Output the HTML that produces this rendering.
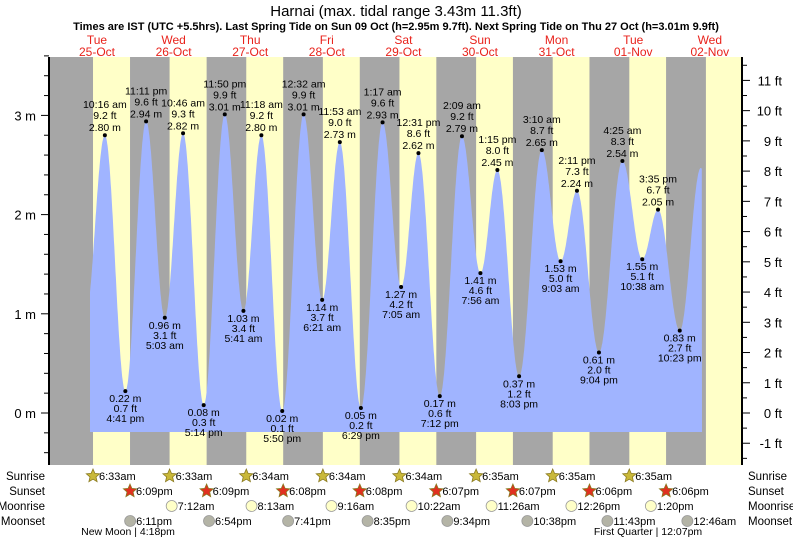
<!DOCTYPE html>
<html><head><meta charset="utf-8"><style>
body{margin:0;background:#fff;}
svg{display:block;font-family:"Liberation Sans",sans-serif;}
</style></head><body>
<svg id="c" width="793" height="539">
<text x="396" y="16" text-anchor="middle" font-size="15">Harnai (max. tidal range 3.43m 11.3ft)</text>
<text x="396" y="30" text-anchor="middle" font-size="11" font-weight="bold">Times are IST (UTC +5.5hrs). Last Spring Tide on Sun 09 Oct (h=2.95m 9.7ft). Next Spring Tide on Thu 27 Oct (h=3.01m 9.9ft)</text>
<g id="bg"></g><g id="tide"></g><g id="axes"></g><g id="labels"></g><g id="bottom"></g>
</svg>
<script>
const dayNames=["Tue","Wed","Thu","Fri","Sat","Sun","Mon","Tue","Wed"];
const dayDates=["25-Oct","26-Oct","27-Oct","28-Oct","29-Oct","30-Oct","31-Oct","01-Nov","02-Nov"];
const tideTimes=["10:16 am","4:41 pm","11:11 pm","5:03 am","10:46 am","5:14 pm","11:50 pm","5:41 am","11:18 am","5:50 pm","12:32 am","6:21 am","11:53 am","6:29 pm","1:17 am","7:05 am","12:31 pm","7:12 pm","2:09 am","7:56 am","1:15 pm","8:03 pm","3:10 am","9:03 am","2:11 pm","9:04 pm","4:25 am","10:38 am","3:35 pm","10:23 pm"];
const tideDays=[0,0,0,1,1,1,1,2,2,2,3,3,3,3,4,4,4,4,5,5,5,5,6,6,6,6,7,7,7,7];
const tideHeights=[2.80,0.22,2.94,0.96,2.82,0.08,3.01,1.03,2.80,0.02,3.01,1.14,2.73,0.05,2.93,1.27,2.62,0.17,2.79,1.41,2.45,0.37,2.65,1.53,2.24,0.61,2.54,1.55,2.05,0.83];
const tideFeet=["9.2","0.7","9.6","3.1","9.3","0.3","9.9","3.4","9.2","0.1","9.9","3.7","9.0","0.2","9.6","4.2","8.6","0.6","9.2","4.6","8.0","1.2","8.7","5.0","7.3","2.0","8.3","5.1","6.7","2.7"];
const sunrise=["6:33am","6:33am","6:34am","6:34am","6:34am","6:35am","6:35am","6:35am"];
const sunset=["6:09pm","6:09pm","6:08pm","6:08pm","6:07pm","6:07pm","6:06pm","6:06pm"];
const moonriseDays=[1,2,3,4,5,6,7];
const moonrise=["7:12am","8:13am","9:16am","10:22am","11:26am","12:26pm","1:20pm"];
const moonsetDays=[0,1,2,3,4,5,6,8];
const moonset=["6:11pm","6:54pm","7:41pm","8:35pm","9:34pm","10:38pm","11:43pm","12:46am"];
const NS="http://www.w3.org/2000/svg";
const PX_H=76.6/24, X0=72.1;
function parseT(s){const m=s.match(/(\d+):(\d+)\s*(am|pm)/);let h=+m[1]%12;if(m[3]=="pm")h+=12;return h+ +m[2]/60;}
function xT(t){return X0+t*PX_H;}
function yM(m){return 413-m*99.2;}
function el(tag,attrs,parent,txt){const e=document.createElementNS(NS,tag);for(const k in attrs)e.setAttribute(k,attrs[k]);if(txt!==undefined)e.textContent=txt;parent.appendChild(e);return e;}
const bg=document.getElementById('bg'),tide=document.getElementById('tide'),axes=document.getElementById('axes'),labels=document.getElementById('labels'),bottom=document.getElementById('bottom');
const L=49,R=742,T=57,B=465;
let r=el('rect',{x:L,y:T,width:R-L,height:B-T,fill:'#a6a6a6'},bg);


for(let d=0;d<9;d++){
 const sr=d<8?parseT(sunrise[d]):parseT(sunrise[7]);
 const ss=d<8?parseT(sunset[d]):parseT(sunset[7]);
 const x1=xT(d*24+sr),x2=Math.min(R,xT(d*24+ss));
 let y=el('rect',{x:x1,y:T,width:x2-x1,height:B-T,fill:'#ffffc8'},bg);
 
 
 const cx=97+76.6*d;
 let t1=el('text',{x:cx,y:44,'text-anchor':'middle','font-size':12,fill:'#e8221b'},bg,dayNames[d]);
 
 
 let t2=el('text',{x:cx,y:56,'text-anchor':'middle','font-size':12,fill:'#e8221b'},bg,dayDates[d]);
 
 
}
const pts=tideTimes.map((s,i)=>[tideDays[i]*24+parseT(s),tideHeights[i]]);
const ext=[[pts[0][0]-6.2,0.95]].concat(pts).concat([[pts[pts.length-1][0]+6.6,2.47]]);
const tStart=(90-X0)/PX_H,tEnd=(702-X0)/PX_H,base=432;
let d='M90,'+base;
for(let t=tStart;t<=tEnd;t+=0.1){
 let i=0;while(i<ext.length-2&&ext[i+1][0]<t)i++;
 const [ta,ha]=ext[i],[tb,hb]=ext[i+1];
 const f=(t-ta)/(tb-ta);const h=ha+(hb-ha)*(1-Math.cos(Math.PI*f))/2;
 d+=' L'+xT(t).toFixed(1)+','+yM(h).toFixed(1);
}
d+=' L702,'+base+' Z';
let p=el('path',{d:d,fill:'#a0b4ff'},tide);


pts.forEach((q,i)=>{
 const x=xT(q[0]),y=yM(q[1]);
 const high=i===0||q[1]>pts[i-1][1];
 let c=el('circle',{cx:x,cy:y,r:2,fill:'#000'},labels);
 
 
 const g=el('g',{'font-size':10.5,'text-anchor':'middle',fill:'#000'},labels);
 
 
 const lines=high?[[tideTimes[i],-27],[tideFeet[i]+' ft',-16],[q[1].toFixed(2)+' m',-4]]:[[q[1].toFixed(2)+' m',11],[tideFeet[i]+' ft',21],[tideTimes[i],31]];
 lines.forEach(l=>el('text',{x:x,y:y+l[1]},g,l[0]));
});
el('line',{x1:L,y1:T,x2:L,y2:B,stroke:'#000','stroke-width':2},axes);
el('line',{x1:R,y1:T,x2:R,y2:B,stroke:'#000','stroke-width':2},axes);
for(let m=-0.4;m<=3.61;m+=0.2){
 const y=yM(m);const maj=Math.abs(m-Math.round(m))<0.01;
 el('line',{x1:maj?41:44,y1:y,x2:L,y2:y,stroke:'#000'},axes);
 if(maj){let t=el('text',{x:36,y:y+5,'text-anchor':'end','font-size':13},axes,Math.round(m)+' m');
 
 }
}
for(let f=-1.5;f<=11.6;f+=0.5){
 const y=yM(f*0.3048);if(y<T||y>B)continue;const maj=Math.abs(f-Math.round(f))<0.01;
 el('line',{x1:R,y1:y,x2:R+(maj?8:5),y2:y,stroke:'#000'},axes);
 if(maj){let t=el('text',{x:782,y:y+5,'text-anchor':'end','font-size':13},axes,Math.round(f)+' ft');
 
 }
}
const rows=[['Sunrise',480],['Sunset',495],['Moonrise',510],['Moonset',525]];
rows.forEach(rw=>{
 let a=el('text',{x:45,y:rw[1],'text-anchor':'end','font-size':11.5},bottom,rw[0]);
 
 
 let b=el('text',{x:748,y:rw[1],'font-size':11.5},bottom,rw[0]);
 
 
});
function star(cx,cy,fill){let s='';for(let k=0;k<10;k++){const a=-Math.PI/2+k*Math.PI/5,rr=k%2?3.2:7;s+=(cx+rr*Math.cos(a)).toFixed(1)+','+(cy+rr*Math.sin(a)).toFixed(1)+' ';}return el('polygon',{points:s,fill:fill,stroke:'#8a7a20','stroke-width':0.8},bottom);}
function entry(day,time,y,kind){
 const x=xT(day*24+parseT(time));
 let ic;
 if(kind=='sr')ic=star(x,y-4,'#c9b839');
 else if(kind=='ss')ic=star(x,y-4,'#e03020');
 else ic=el('circle',{cx:x,cy:y-4,r:5.5,fill:kind=='mr'?'#ffffc8':'#b4b4a6',stroke:'#999','stroke-width':0.8},bottom);
 
 
 let t=el('text',{x:x+6,y:y,'font-size':11},bottom,time);
 
 
}
sunrise.forEach((s,i)=>entry(i,s,480,'sr'));
sunset.forEach((s,i)=>entry(i,s,495,'ss'));
moonrise.forEach((s,i)=>entry(moonriseDays[i],s,510,'mr'));
moonset.forEach((s,i)=>entry(moonsetDays[i],s,525,'ms'));
let n1=el('text',{x:128,y:535,'text-anchor':'middle','font-size':10.5},bottom,'New Moon | 4:18pm');


let n2=el('text',{x:648,y:535,'text-anchor':'middle','font-size':10.5},bottom,'First Quarter | 12:07pm');


</script>
</body></html>
